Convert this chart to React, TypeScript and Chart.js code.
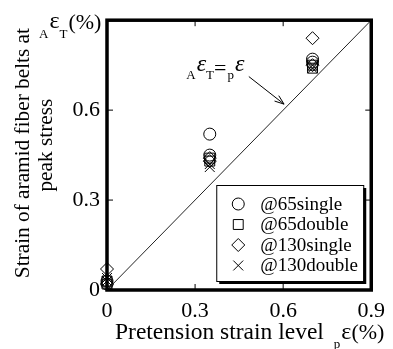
import React, { useEffect, useRef } from 'react';
import { Chart, registerables } from 'chart.js';

Chart.register(...registerables);

const seriesNames = ['@65single', '@65double', '@130single', '@130double'];
const seriesStyles = ['circle', 'rect', 'rectRot', 'crossRot'];
const seriesRadius = [6, 7, 6.5, 7];
const xValues = [0, 0, 0.35, 0.35, 0.7, 0.7];
const y65single = [0.03, 0.02, 0.52, 0.45, 0.77, 0.76];
const y65double = [0.02, 0.03, 0.44, 0.43, 0.75, 0.74];
const y130single = [0.07, 0.02, 0.44, 0.43, 0.84, 0.75];
const y130double = [0.04, 0.03, 0.42, 0.41, 0.74, 0.75];
const seriesValues = [y65single, y65double, y130single, y130double];
const refLineX = [0, 0.9];
const refLineY = [0, 0.9];
const axisMin = 0;
const axisMax = 0.9;
const tickStep = 0.3;
const innerTicks = [0.3, 0.6];
const annotationAt = [0.27, 0.71];
const arrowFrom = [0.483, 0.712];
const arrowTo = [0.603, 0.62];

const SERIF = "'Liberation Serif'";
const f = (size: number, style = '') => `${style} ${size}px ${SERIF}`.trim();

function drawMarker(ctx: CanvasRenderingContext2D, style: string, x: number, y: number, r: number) {
  ctx.beginPath();
  if (style === 'circle') {
    ctx.arc(x, y, r, 0, Math.PI * 2);
  } else if (style === 'rect') {
    const s = r * Math.SQRT1_2;
    ctx.rect(x - s, y - s, 2 * s, 2 * s);
  } else if (style === 'rectRot') {
    ctx.moveTo(x - r, y);
    ctx.lineTo(x, y - r);
    ctx.lineTo(x + r, y);
    ctx.lineTo(x, y + r);
    ctx.closePath();
  } else {
    const s = r * Math.SQRT1_2;
    ctx.moveTo(x - s, y - s);
    ctx.lineTo(x + s, y + s);
    ctx.moveTo(x + s, y - s);
    ctx.lineTo(x - s, y + s);
  }
  ctx.stroke();
}

function txt(ctx: CanvasRenderingContext2D, s: string, x: number, y: number, font: string) {
  ctx.font = font;
  ctx.textAlign = 'left';
  ctx.textBaseline = 'alphabetic';
  ctx.fillText(s, x, y);
  return ctx.measureText(s).width;
}

const overlay = {
  id: 'overlay',
  afterDraw(chart: any) {
    const { ctx, chartArea: ca, scales } = chart;
    const xs = scales.x;
    const ys = scales.y;
    ctx.save();
    ctx.fillStyle = '#000';
    ctx.strokeStyle = '#000';

    ctx.lineWidth = 1;
    ctx.beginPath();
    innerTicks.forEach((v) => {
      const px = xs.getPixelForValue(v);
      ctx.moveTo(px, ca.bottom);
      ctx.lineTo(px, ca.bottom - 6);
      ctx.moveTo(px, ca.top);
      ctx.lineTo(px, ca.top + 6);
      const py = ys.getPixelForValue(v);
      ctx.moveTo(ca.left, py);
      ctx.lineTo(ca.left + 6, py);
      ctx.moveTo(ca.right, py);
      ctx.lineTo(ca.right - 6, py);
    });
    ctx.stroke();

    ctx.lineWidth = 3.5;
    ctx.strokeRect(ca.left, ca.top, ca.right - ca.left, ca.bottom - ca.top);

    const ax = xs.getPixelForValue(annotationAt[0]);
    const ay = ys.getPixelForValue(annotationAt[1]);
    let cx = ax;
    cx += txt(ctx, 'A', cx, ay + 2, f(13)) + 1;
    cx += txt(ctx, 'ε', cx, ay - 6, f(24, 'italic'));
    cx += txt(ctx, 'T', cx, ay + 2, f(13));
    cx += txt(ctx, '=', cx, ay - 2, f(22)) + 1;
    cx += txt(ctx, 'p', cx, ay + 2, f(13)) + 1;
    txt(ctx, 'ε', cx, ay - 6, f(24, 'italic'));

    const x1 = xs.getPixelForValue(arrowFrom[0]);
    const y1 = ys.getPixelForValue(arrowFrom[1]);
    const x2 = xs.getPixelForValue(arrowTo[0]);
    const y2 = ys.getPixelForValue(arrowTo[1]);
    ctx.lineWidth = 1;
    ctx.beginPath();
    ctx.moveTo(x1, y1);
    ctx.lineTo(x2, y2);
    const ang = Math.atan2(y2 - y1, x2 - x1);
    const hl = 10;
    ctx.moveTo(x2, y2);
    ctx.lineTo(x2 - hl * Math.cos(ang - 0.35), y2 - hl * Math.sin(ang - 0.35));
    ctx.moveTo(x2, y2);
    ctx.lineTo(x2 - hl * Math.cos(ang + 0.35), y2 - hl * Math.sin(ang + 0.35));
    ctx.stroke();

    const lr = ca.right - 8;
    const lb = ca.bottom - 9;
    const lw = 147;
    const lh = 96;
    const ll = lr - lw;
    const lt = lb - lh;
    ctx.fillRect(ll + 3, lt + 3, lw, lh);
    ctx.fillStyle = '#fff';
    ctx.fillRect(ll, lt, lw, lh);
    ctx.fillStyle = '#000';
    ctx.lineWidth = 1;
    ctx.strokeRect(ll + 0.5, lt + 0.5, lw, lh);
    seriesNames.forEach((name, i) => {
      const ry = lt + 19 + i * 20.5;
      drawMarker(ctx, seriesStyles[i], ll + 22, ry, seriesRadius[i]);
      ctx.font = f(19);
      ctx.textBaseline = 'middle';
      ctx.textAlign = 'left';
      ctx.fillText(name, ll + 44, ry + 1);
    });

    const midY = (ca.top + ca.bottom) / 2;
    ctx.save();
    ctx.translate(ca.left - 84, midY - 2);
    ctx.rotate(-Math.PI / 2);
    ctx.font = f(21.3);
    ctx.textAlign = 'center';
    ctx.textBaseline = 'middle';
    ctx.fillText('Strain of aramid fiber belts at', 0, 0);
    ctx.restore();
    ctx.save();
    ctx.translate(ca.left - 61, midY - 10);
    ctx.rotate(-Math.PI / 2);
    ctx.font = f(21.3);
    ctx.textAlign = 'center';
    ctx.textBaseline = 'middle';
    ctx.fillText('peak stress', 0, 0);
    ctx.restore();

    let tx = ca.left - 68;
    tx += txt(ctx, 'A', tx, ca.top + 18, f(13)) + 1;
    tx += txt(ctx, 'ε', tx, ca.top + 8, f(24));
    tx += txt(ctx, 'T', tx, ca.top + 18, f(13)) + 1;
    txt(ctx, '(%)', tx, ca.top + 9, f(22));

    let bx = ca.left + 8;
    bx += txt(ctx, 'Pretension strain level', bx, ca.bottom + 49, f(23.5)) + 10;
    bx += txt(ctx, 'p', bx, ca.bottom + 58, f(13)) + 1;
    bx += txt(ctx, 'ε', bx, ca.bottom + 49, f(24));
    txt(ctx, '(%)', bx, ca.bottom + 49, f(22));

    ctx.restore();
  },
};

const fmt = (v: number) => (Math.abs(v) < 1e-9 ? '0' : Number(v).toFixed(1));

export default function App() {
  const ref = useRef<HTMLCanvasElement>(null);
  useEffect(() => {
    let chart: any = null;
    let cancelled = false;
    const build = () => {
      if (cancelled || !ref.current) return;
      const datasets: any[] = seriesNames.map((name, i) => ({
        label: name,
        data: xValues.map((xv, j) => ({ x: xv, y: seriesValues[i][j] })),
        pointStyle: seriesStyles[i],
        pointRadius: seriesRadius[i],
        pointBorderColor: '#000',
        pointBackgroundColor: 'rgba(0,0,0,0)',
        pointBorderWidth: 1,
        showLine: false,
        clip: false,
      }));
      datasets.unshift({
        label: 'ref',
        data: refLineX.map((xv, j) => ({ x: xv, y: refLineY[j] })),
        showLine: true,
        borderColor: '#222',
        borderWidth: 1,
        pointRadius: 0,
        clip: false,
      });
      chart = new Chart(ref.current, {
        type: 'scatter',
        data: { datasets },
        options: {
          animation: false,
          responsive: false,
          devicePixelRatio: 1,
          layout: { padding: { top: 17, right: 16, left: 0, bottom: 0 } },
          plugins: { legend: { display: false }, tooltip: { enabled: false } },
          scales: {
            x: {
              type: 'linear',
              min: axisMin,
              max: axisMax,
              grid: { display: false, drawTicks: false },
              border: { display: false },
              ticks: {
                stepSize: tickStep,
                padding: 8,
                color: '#000',
                font: { family: SERIF, size: 22 },
                callback: (v: any) => fmt(Number(v)),
                maxRotation: 0,
              },
              afterFit: (s: any) => {
                s.height = 59;
              },
            },
            y: {
              type: 'linear',
              min: axisMin,
              max: axisMax,
              grid: { display: false, drawTicks: false },
              border: { display: false },
              ticks: {
                stepSize: tickStep,
                padding: 7,
                color: '#000',
                font: { family: SERIF, size: 22 },
                callback: (v: any) => (Number(v) > 0.85 ? '' : fmt(Number(v))),
              },
              afterFit: (s: any) => {
                s.width = 107;
              },
            },
          },
        },
        plugins: [overlay],
      });
    };
    const fonts: any = (document as any).fonts;
    if (fonts && fonts.load) {
      Promise.all([
        fonts.load(`22px ${SERIF}`, 'Strain 0.3 ε'),
        fonts.load(`italic 24px ${SERIF}`, 'ε'),
      ])
        .catch(() => null)
        .then(build);
    } else {
      build();
    }
    return () => {
      cancelled = true;
      if (chart) chart.destroy();
    };
  }, []);
  return (
    <div style={{ position: 'fixed', left: 0, top: 0, width: 393, height: 349, background: '#fff', fontFamily: SERIF }}>
      <span style={{ position: 'absolute', left: -9999, fontFamily: SERIF }}>Aa ε</span>
      <canvas ref={ref} width={393} height={349} style={{ display: 'block' }} />
    </div>
  );
}
